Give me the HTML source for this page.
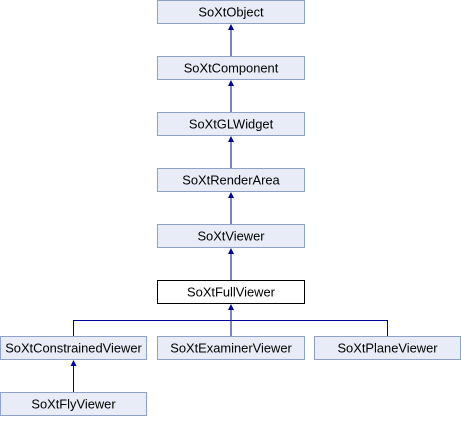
<!DOCTYPE html><html><head><style>body{margin:0;width:461px;height:416px;background:#fff;overflow:hidden}</style></head><body>
<svg width="461" height="416" xmlns="http://www.w3.org/2000/svg" font-family="Liberation Sans, sans-serif" font-size="12.9">
<g fill="#e8ecf6" stroke="#8ea2c8">
<rect x="157.5" y="0.5" width="147" height="23"/>
<rect x="157.5" y="56.5" width="147" height="23"/>
<rect x="157.5" y="112.5" width="147" height="23"/>
<rect x="157.5" y="168.5" width="147" height="23"/>
<rect x="157.5" y="224.5" width="147" height="23"/>
<rect x="157.5" y="280.5" width="147" height="23" fill="#fff" stroke="#000"/>
<rect x="0.5" y="336.5" width="146" height="23"/>
<rect x="157.5" y="336.5" width="147" height="23"/>
<rect x="314.5" y="336.5" width="146" height="23"/>
<rect x="0.5" y="392.5" width="146" height="23"/>
</g>
<g stroke="#00009c" fill="none">
<path d="M231 56V28M231 112V84M231 168V140M231 224V196M231 280V252M231 336V308M73.5 336V320.5H387.5V336M73.5 392V364"/>
</g>
<g fill="#00009c">
<path d="M231 24l-3 6h6zM231 80l-3 6h6zM231 136l-3 6h6zM231 192l-3 6h6zM231 248l-3 6h6zM231 304l-3 6h6zM73.5 360l-3 6h6z"/>
</g>
<g text-anchor="middle" fill="#000">
<text x="231" y="16.5">SoXtObject</text>
<text x="231" y="72.5">SoXtComponent</text>
<text x="231" y="128.5">SoXtGLWidget</text>
<text x="231" y="184.5">SoXtRenderArea</text>
<text x="231" y="240.5">SoXtViewer</text>
<text x="231" y="296.5">SoXtFullViewer</text>
<text x="73.5" y="352.5">SoXtConstrainedViewer</text>
<text x="231" y="352.5">SoXtExaminerViewer</text>
<text x="387.5" y="352.5">SoXtPlaneViewer</text>
<text x="73.5" y="408.5">SoXtFlyViewer</text>
</g>
</svg>
</body></html>
